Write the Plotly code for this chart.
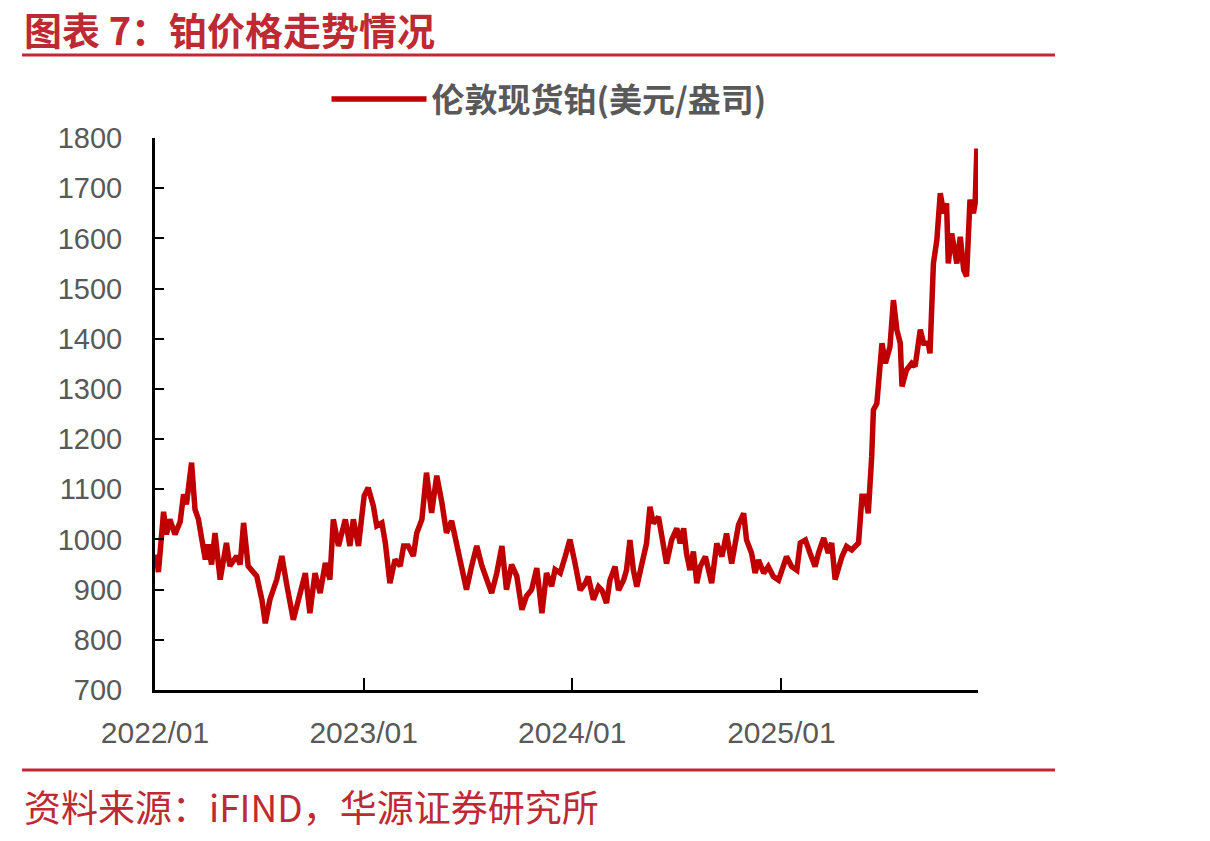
import plotly.graph_objects as go

# ---- data ----
dates = [
    "2022-01-03", "2022-01-07", "2022-01-16", "2022-01-21", "2022-01-27", "2022-02-05", "2022-02-14",
    "2022-02-20", "2022-02-25", "2022-03-06", "2022-03-12", "2022-03-18", "2022-03-24", "2022-03-30",
    "2022-04-04", "2022-04-10", "2022-04-16", "2022-04-25", "2022-05-06", "2022-05-12", "2022-05-24",
    "2022-05-30", "2022-06-05", "2022-06-13", "2022-06-28", "2022-07-07", "2022-07-13", "2022-07-21",
    "2022-08-02", "2022-08-11", "2022-08-19", "2022-08-31", "2022-09-12", "2022-09-21", "2022-09-29",
    "2022-10-08", "2022-10-17", "2022-10-26", "2022-11-03", "2022-11-09", "2022-11-18", "2022-11-30",
    "2022-12-08", "2022-12-14", "2022-12-23", "2023-01-02",
    "2023-01-09", "2023-01-18", "2023-01-24", "2023-02-02", "2023-02-08", "2023-02-16", "2023-02-25",
    "2023-03-06", "2023-03-12", "2023-03-20", "2023-03-29", "2023-04-04", "2023-04-13", "2023-04-21",
    "2023-04-30", "2023-05-09", "2023-05-18", "2023-05-26", "2023-06-04", "2023-06-13", "2023-06-22",
    "2023-06-30", "2023-07-09", "2023-07-18", "2023-07-27", "2023-08-04", "2023-08-13", "2023-08-22",
    "2023-08-31", "2023-09-08", "2023-09-17", "2023-09-26", "2023-10-05", "2023-10-13", "2023-10-22",
    "2023-10-31", "2023-11-09", "2023-11-17", "2023-11-26", "2023-12-02", "2023-12-11", "2023-12-20",
    "2023-12-28",
    "2024-01-06", "2024-01-15", "2024-01-24", "2024-01-29", "2024-02-07", "2024-02-16", "2024-02-22",
    "2024-03-01", "2024-03-07", "2024-03-16", "2024-03-22", "2024-03-31", "2024-04-05", "2024-04-11",
    "2024-04-17", "2024-04-23", "2024-05-02", "2024-05-10", "2024-05-16", "2024-05-22", "2024-05-31",
    "2024-06-06", "2024-06-14", "2024-06-23", "2024-07-02", "2024-07-08", "2024-07-14", "2024-07-19",
    "2024-07-25", "2024-07-31", "2024-08-06", "2024-08-12", "2024-08-21", "2024-09-01", "2024-09-10",
    "2024-09-19", "2024-09-27", "2024-10-06", "2024-10-12", "2024-10-18", "2024-10-27", "2024-11-01",
    "2024-11-10", "2024-11-16", "2024-11-22", "2024-12-01", "2024-12-09", "2024-12-18", "2024-12-27",
    "2025-01-10", "2025-01-19", "2025-01-28", "2025-02-03", "2025-02-12", "2025-02-20", "2025-03-01",
    "2025-03-07", "2025-03-16", "2025-03-24", "2025-03-30", "2025-04-05", "2025-04-11", "2025-04-17",
    "2025-04-25", "2025-05-04", "2025-05-16", "2025-05-22", "2025-05-28", "2025-06-02", "2025-06-08",
    "2025-06-11", "2025-06-17", "2025-06-20", "2025-06-26", "2025-07-02", "2025-07-10", "2025-07-16",
    "2025-07-22", "2025-07-28", "2025-07-31", "2025-08-08", "2025-08-17", "2025-08-23", "2025-09-01",
    "2025-09-07", "2025-09-15", "2025-09-18", "2025-09-24", "2025-09-30", "2025-10-06", "2025-10-12",
    "2025-10-17", "2025-10-20", "2025-10-26", "2025-11-04", "2025-11-10", "2025-11-16", "2025-11-21",
    "2025-11-27", "2025-12-03", "2025-12-06", "2025-12-09",
]
prices = [
    970, 935, 1055, 1010, 1040, 1010, 1035,
    1090, 1070, 1153, 1060, 1040, 1000, 960,
    990, 950, 1013, 920, 993, 947, 967,
    950, 1033, 947, 927, 880, 833, 880,
    920, 967, 913, 840, 893, 933, 853,
    933, 893, 953, 920, 1040, 987, 1040,
    987, 1040, 987, 1087,
    1103, 1067, 1027, 1033, 993, 913, 960,
    947, 987, 987, 967, 1013, 1040, 1133,
    1053, 1127, 1073, 1013, 1037, 987, 933,
    900, 947, 987, 947, 920, 893, 933,
    987, 900, 950, 927, 860, 887, 900,
    943, 853, 933, 907, 940, 933, 967,
    1000,
    952, 899, 913, 926, 880, 906, 899,
    873, 919, 946, 899, 919, 939, 999,
    939, 906, 952, 992, 1065, 1032, 1045,
    999, 952, 999, 1022, 992, 1022, 972,
    939, 976, 913, 946, 966, 913, 992,
    966, 1012, 952, 999, 1029, 1052, 999,
    972, 933, 959, 933, 946, 926, 919,
    966, 946, 939, 993, 999, 973, 946,
    973, 1003, 973, 993, 920, 946, 966,
    986, 979, 993, 1086, 1086, 1052, 1165,
    1258, 1271, 1305, 1391, 1351, 1384, 1477,
    1418, 1391, 1305, 1338, 1351, 1345, 1418,
    1391, 1391, 1371, 1550, 1597, 1690, 1650,
    1670, 1550, 1610, 1550, 1603, 1537, 1524,
    1677, 1650, 1670, 1779,
]
series_name = "伦敦现货铂(美元/盎司)"
y_ticks = [700, 800, 900, 1000, 1100, 1200, 1300, 1400, 1500, 1600, 1700, 1800]
x_tickvals = ["2022-01-01", "2023-01-01", "2024-01-01", "2025-01-01"]
x_ticktext = ["2022/01", "2023/01", "2024/01", "2025/01"]
x_range = ["2022-01-01", "2025-12-11"]
title_text = "图表 7：铂价格走势情况"
source_text = "资料来源：iFIND，华源证券研究所"

# ---- layout geometry (pixels) ----
W, H = 1210, 841
PL, PR, PT, PB = 155, 978, 138, 690


def px_x(p):
    return (p - PL) / (PR - PL)


def px_y(p):
    return (PB - p) / (PB - PT)


RED = "#BE2A33"
LINE_RED = "#C00000"
GRAY = "#595959"
CJK = "Noto Sans CJK SC"

fig = go.Figure()
fig.add_trace(go.Scatter(
    x=dates, y=prices, mode="lines", name=series_name,
    line=dict(color=LINE_RED, width=5.5),
))

fig.update_layout(
    width=W, height=H,
    margin=dict(l=PL, r=W - PR, t=PT, b=H - PB, pad=0),
    paper_bgcolor="white", plot_bgcolor="white",
    showlegend=True,
    legend=dict(
        orientation="h", x=px_x(549), xanchor="center", y=px_y(99), yanchor="middle",
        font=dict(family=CJK, size=33, color=GRAY, weight="bold"),
        itemwidth=95, bgcolor="rgba(0,0,0,0)",
    ),
    xaxis=dict(
        type="date", range=x_range, tickvals=x_tickvals, ticktext=x_ticktext,
        showgrid=False, zeroline=False,
        showline=True, linecolor="black", linewidth=3,
        ticks="inside", ticklen=12, tickwidth=2, tickcolor="black",
        tickfont=dict(family="Liberation Sans, Arial", size=30, color=GRAY),
        ticklabelstandoff=14,
    ),
    yaxis=dict(
        range=[700, 1800], tickvals=y_ticks,
        showgrid=False, zeroline=False,
        showline=True, linecolor="black", linewidth=3,
        ticks="inside", ticklen=9, tickwidth=2, tickcolor="black",
        tickfont=dict(family="Liberation Sans, Arial", size=29, color=GRAY),
        ticklabelstandoff=24,
    ),
)

# title, rules and source note
fig.add_annotation(
    text=f"<b>{title_text}</b>", xref="paper", yref="paper",
    x=px_x(22), y=px_y(28), xanchor="left", yanchor="middle", showarrow=False,
    font=dict(family=CJK, size=38, color=RED),
)
fig.add_shape(type="line", xref="paper", yref="paper",
              x0=px_x(22), x1=px_x(1055), y0=px_y(55), y1=px_y(55),
              line=dict(color=RED, width=3))
fig.add_shape(type="line", xref="paper", yref="paper",
              x0=px_x(22), x1=px_x(1055), y0=px_y(770), y1=px_y(770),
              line=dict(color=RED, width=3))
fig.add_annotation(
    text=source_text, xref="paper", yref="paper",
    x=px_x(22), y=px_y(806), xanchor="left", yanchor="middle", showarrow=False,
    font=dict(family=CJK, size=37, color=RED),
)

fig.write_html("out.html")
